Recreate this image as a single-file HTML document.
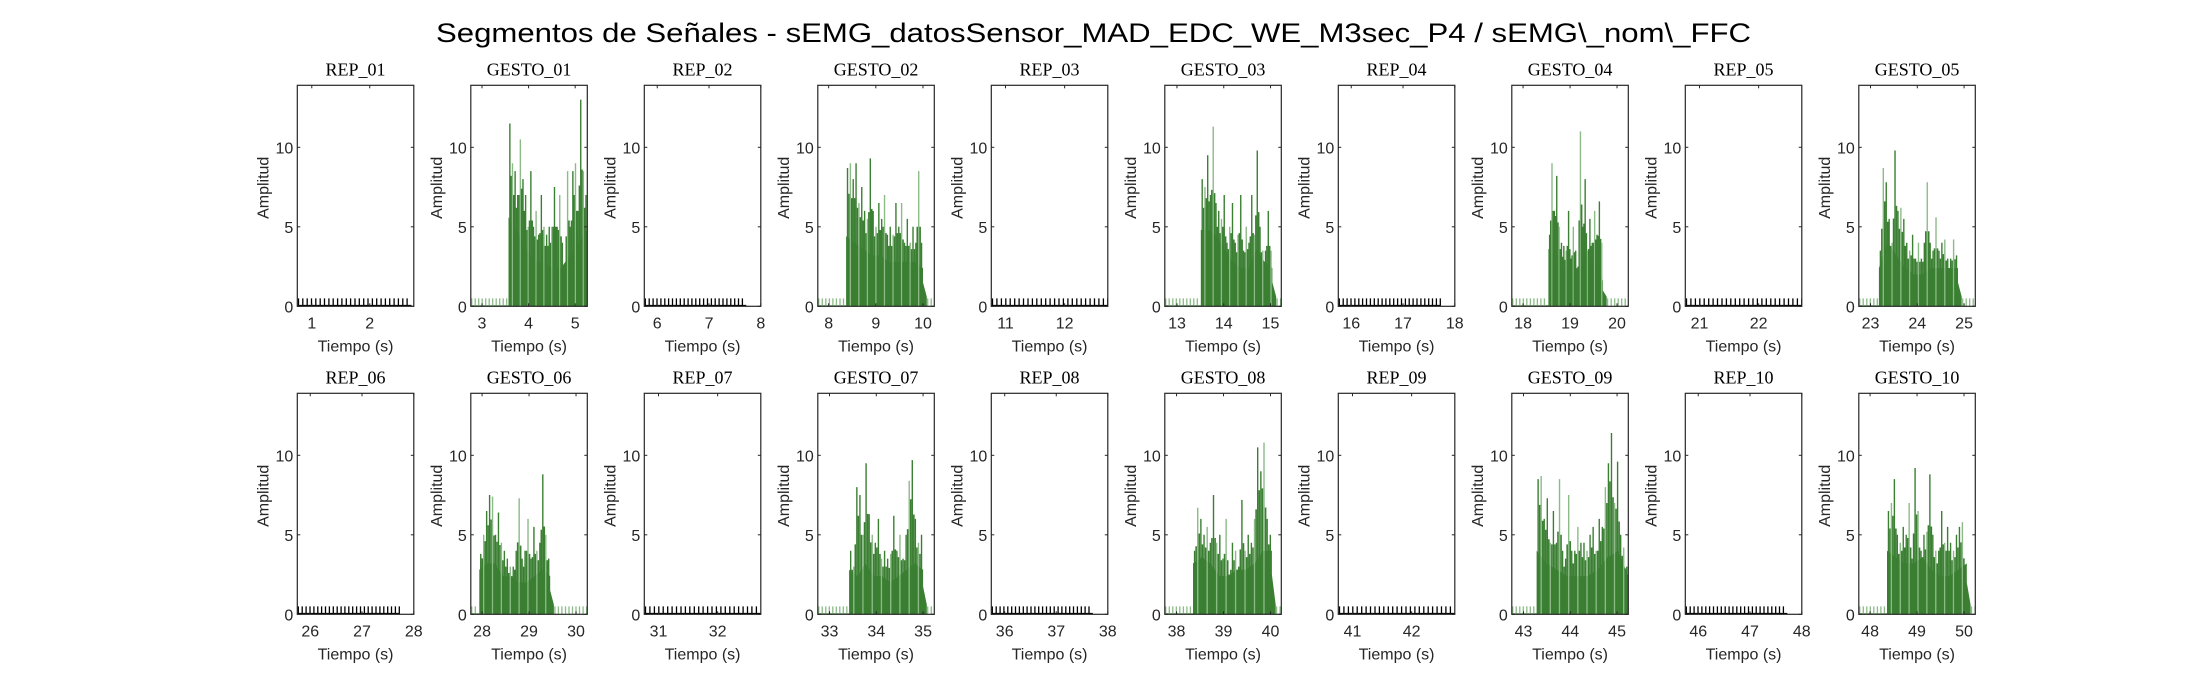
<!DOCTYPE html>
<html><head><meta charset="utf-8"><style>
html,body{margin:0;padding:0;background:#fff;}
svg{display:block;}
text{font-family:"Liberation Sans",sans-serif;fill:#262626;}
.ser{font-family:"Liberation Serif",serif;fill:#000;}
</style></head><body>
<svg id="fig" width="2187" height="688" viewBox="0 0 2187 688" xmlns="http://www.w3.org/2000/svg">
<text x="436" y="42" font-size="27" textLength="1315" lengthAdjust="spacingAndGlyphs" style="fill:#000">Segmentos de Señales - sEMG_datosSensor_MAD_EDC_WE_M3sec_P4 / sEMG\_nom\_FFC</text>
</svg>
<script>
const panelTitles = ["REP_01","GESTO_01","REP_02","GESTO_02","REP_03","GESTO_03","REP_04","GESTO_04","REP_05","GESTO_05",
 "REP_06","GESTO_06","REP_07","GESTO_07","REP_08","GESTO_08","REP_09","GESTO_09","REP_10","GESTO_10"];
const xMins = [0.75,2.76,5.75,7.77,10.76,12.74,15.75,17.76,20.76,22.75, 25.75,27.76,30.76,32.75,35.74,37.75,40.76,42.75,45.75,47.76];
const xMaxs = [2.76,5.26,8.0,10.24,12.73,15.23,18.0,20.24,22.73,25.24, 28.0,30.24,32.73,35.24,38.0,40.23,42.73,45.24,48.0,50.24];
const xTickSets = [[1,2],[3,4,5],[6,7,8],[8,9,10],[11,12],[13,14,15],[16,17,18],[18,19,20],[21,22],[23,24,25],
 [26,27,28],[28,29,30],[31,32],[33,34,35],[36,37,38],[38,39,40],[41,42],[43,44,45],[46,47,48],[48,49,50]];
const yTicks = [0,5,10];
const yMax = 13.9;
const activeStart = [3.57,8.37,13.51,18.54,23.18,27.94,33.42,38.35,43.28,48.36];
const activeEnd   = [5.26,10.0,15.04,19.7,24.87,29.45,35.0,40.03,45.24,50.06];
const peaks01 = [11.5,9,8.5,7,10.5,8,7,5,8.5,5,6,4.5,7,5,4.5,5,5,7.5,5,7,4,2.5,8.5,5,8.5,9,6,13,8.5,7];
const peaks02 = [8.7,9,8,9,6.5,7.5,6,5.5,9.3,6,5,6.5,5.5,7,4.5,5,4.5,6.5,5,6.5,4,5.5,4,5,4,8.5,4];
const peaks03 = [8,7.5,9.5,7,11.3,6.5,6,5.5,7,4,5,6.5,4,4.5,7,3.5,5,4,7,4.5,9.8,5,3.5,3.5,6,3.5];
const peaks04 = [4.5,9,6,8.2,5,4,3.8,3.5,6,3,5,3.5,2.5,11,5,8,3.5,5.5,4,6,4.5,6.6,4];
const peaks05 = [3.5,8.7,7.8,5.5,4,9.8,6,6.2,5.5,4,3.5,4.5,3,4,3,4,7.8,4,3.5,5.6,3.5,4,4.2,3,3,4.2,3.2];
const peaks06 = [3.8,5,6.5,7.5,7.4,5,6.4,4.5,4,3.5,3,3,4,7.3,3.5,4,6,3.5,5.5,4,4.5,8.8,5,3.5];
const peaks07 = [4,3,8,7.5,5,9.5,6.3,5,4.5,6,3.5,4,3.5,3.8,6.2,4,5,3.5,5,8.4,9.7,6,4.5,5];
const peaks08 = [4,6.7,6,5,5.5,4.5,7.5,4.5,5,3.5,6,2.5,4.5,4,3,7.2,4,5,4.5,6,10.5,9,10.8,6,5];
const peaks09 = [8.5,8.7,6,7.3,4.5,6.5,4.5,8.5,4,3.5,7.5,4,4,5.5,4.5,4.5,4,5,5.5,4,6,5.5,8,9.5,11.4,7,9.6,5,4.2,3];
const peaks10 = [6.5,7,8.5,5,4.5,5.5,5,7,3.5,9.2,6.5,4,5,5.2,8.8,5,4,4,6.5,4.5,5.5,4.5,4,5,5.5,5.8,3];
const body01 = [7,6,4.5,3.5,3.5,3,3,4,5,6];
const body02 = [5.5,5,4.5,4,4,3.5,3.5,3.5,3.5,3];
const body03 = [6,6,5.5,4.5,3.5,3,3,4.5,3.5,3];
const body04 = [4.5,4.5,3,3,2.5,3,4,4,3.5,2];
const body05 = [3,5,4,3,2.5,2.5,3,3,3,3];
const body06 = [3.5,4,4,3,3,2.5,2.5,3,3.5,3];
const body07 = [3.5,3,4,3,3,2.5,3,3.5,4,3.5];
const body08 = [4,4.5,4,3,3,3.5,3.5,4,5,5];
const body09 = [5,4,3.5,3,3,3,3.5,4.5,5,3];
const body10 = [5,4.5,4,4,4.5,3.5,3,3,3.5,4];
const allPeaks = [peaks01,peaks02,peaks03,peaks04,peaks05,peaks06,peaks07,peaks08,peaks09,peaks10];
const allBody = [body01,body02,body03,body04,body05,body06,body07,body08,body09,body10];

const NS="http://www.w3.org/2000/svg";
const svg=document.getElementById('fig');
function mk(tag,attrs,parent){const e=document.createElementNS(NS,tag);for(const k in attrs)e.setAttribute(k,attrs[k]);(parent||svg).appendChild(e);return e;}
const DARK="#3b7f33", LIGHT="#8cbb87";
for(let p=0;p<20;p++){
  const row=Math.floor(p/10), col=p%10;
  const L=297.3+col*173.5, W=116.5, T=row?393.3:85.3, H=221;
  const B=T+H;
  const x0=xMins[p], x1=xMaxs[p];
  const sx=v=>L+(v-x0)/(x1-x0)*W;
  const sy=v=>B-v/yMax*H;
  const g=mk('g',{});
  
  
  const isG = p%2===1;
  const clip=mk('clipPath',{id:'c'+p},g);mk('rect',{x:L,y:T,width:W,height:H},clip);
  const data=mk('g',{'clip-path':'url(#c'+p+')'},g);
  
  
  const stepT=0.075;
  if(!isG){
    const end=Math.min(x1,x0+1.97);
    let d='';
    for(let t=x0+0.02;t<end;t+=stepT){d+='M'+sx(t).toFixed(1)+' '+B+'V'+sy(0.5).toFixed(1);}
    mk('path',{d:d,stroke:'#000','stroke-width':1.3,fill:'none'},data);
    mk('line',{x1:L,x2:sx(end),y1:B-0.7,y2:B-0.7,stroke:'#000','stroke-width':1.4},data);
  } else {
    const gi=(p-1)/2, a=activeStart[gi], e=activeEnd[gi];
    const pk=allPeaks[gi], bd=allBody[gi];
    let d='';
    for(let t=x0+0.02;t<a-0.02;t+=stepT){d+='M'+sx(t).toFixed(1)+' '+B+'V'+sy(0.5).toFixed(1);}
    for(let t=e+0.1;t<x1;t+=stepT){d+='M'+sx(t).toFixed(1)+' '+B+'V'+sy(0.5).toFixed(1);}
    mk('path',{d:d,stroke:LIGHT,'stroke-width':1.3,fill:'none'},data);
    mk('line',{x1:L,x2:sx(a),y1:B-0.7,y2:B-0.7,stroke:LIGHT,'stroke-width':1.2},data);
    let pts=sx(a).toFixed(1)+','+B+' ';
    bd.forEach((v,i)=>{const t=a+(e-a)*(i/(bd.length-1));pts+=sx(t).toFixed(1)+','+sy(v*0.8).toFixed(1)+' ';});
    pts+=sx(e).toFixed(1)+','+sy(bd[bd.length-1]*0.5).toFixed(1)+' '+sx(e+0.08).toFixed(1)+','+sy(0.6).toFixed(1)+' '+sx(e+0.08).toFixed(1)+','+B;
    mk('polygon',{points:pts,fill:DARK},data);
    pk.forEach((v,i)=>{
      const t=a+(e-a)*((i+0.5)/pk.length);
      const line=mk('line',{x1:sx(t),x2:sx(t),y1:B,y2:sy(v),stroke:(i%3===1)?LIGHT:DARK,'stroke-width':1.4},data);
      
      
      if(i<pk.length-1){
        const t2=a+(e-a)*((i+1)/pk.length), v2=(v+pk[i+1])/2*0.8;
        mk('line',{x1:sx(t2),x2:sx(t2),y1:B,y2:sy(v2),stroke:DARK,'stroke-width':1.6},data);
      }
    });
  }
  const box=mk('rect',{x:L,y:T,width:W,height:H,fill:'none',stroke:'#262626','stroke-width':1.2},g);
  
  
  yTicks.forEach(v=>{
    const y=sy(v);
    mk('line',{x1:L,x2:L+3,y1:y,y2:y,stroke:'#262626','stroke-width':1},g);
    mk('line',{x1:L+W,x2:L+W-3,y1:y,y2:y,stroke:'#262626','stroke-width':1},g);
    const tl=mk('text',{x:L-4,y:y+6,'font-size':16,'text-anchor':'end'},g);tl.textContent=v;
    
    
  });
  xTickSets[p].forEach(v=>{
    const x=sx(v);
    mk('line',{x1:x,x2:x,y1:B,y2:B-3,stroke:'#262626','stroke-width':1},g);
    mk('line',{x1:x,x2:x,y1:T,y2:T+3,stroke:'#262626','stroke-width':1},g);
    const tl=mk('text',{x:x,y:B+22,'font-size':16,'text-anchor':'middle'},g);tl.textContent=v;
    
    
  });
  const xl=mk('text',{x:L+W/2,y:B+45,'font-size':16,'text-anchor':'middle'},g);xl.textContent='Tiempo (s)';
  
  
  const cy=T+H/2-8;
  const yl=mk('text',{x:L-29,y:cy,'font-size':16,'text-anchor':'middle',transform:'rotate(-90 '+(L-29)+' '+cy+')'},g);yl.textContent='Amplitud';
  
  
  const tt=mk('text',{x:L+W/2,y:T-10,'font-size':18,'text-anchor':'middle',class:'ser'},g);tt.textContent=panelTitles[p];
  
  
}
</script>
</body></html>
